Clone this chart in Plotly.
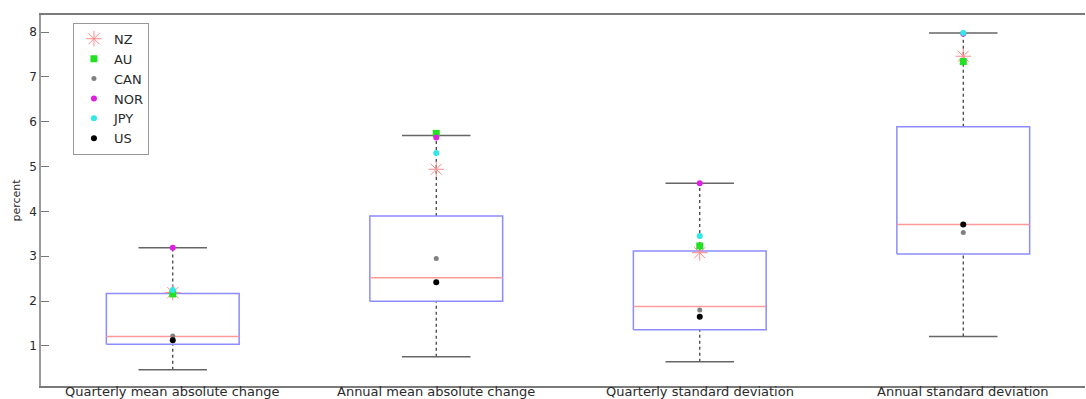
import plotly.graph_objects as go

# ---- data ----
categories = ["Quarterly mean absolute change", "Annual mean absolute change",
              "Quarterly standard deviation", "Annual standard deviation"]
q1 = [1.04, 2.00, 1.36, 3.05]
median = [1.21, 2.52, 1.88, 3.71]
q3 = [2.17, 3.90, 3.12, 5.89]
lower_whisker = [0.47, 0.76, 0.65, 1.21]
upper_whisker = [3.19, 5.69, 4.63, 7.98]

countries = ["NZ", "AU", "CAN", "NOR", "JPY", "US"]
NZ = [2.19, 4.94, 3.08, 7.46]
AU = [2.16, 5.74, 3.23, 7.34]
CAN = [1.22, 2.95, 1.80, 3.53]
NOR = [3.19, 5.65, 4.63, 7.96]
JPY = [2.25, 5.30, 3.45, 7.98]
US = [1.13, 2.42, 1.65, 3.71]
country_values = [NZ, AU, CAN, NOR, JPY, US]

yticks = [1, 2, 3, 4, 5, 6, 7, 8]

# ---- styles ----
FONT = "DejaVu Sans"
TEXT = "#2a2a2a"
box_half = 0.252
cap_half = 0.13
styles = {
    "NZ": dict(symbol="asterisk-open", size=13, color="#ff8a8a", line=dict(color="#ff8a8a", width=1)),
    "AU": dict(symbol="square", size=7, color="#22e022"),
    "CAN": dict(symbol="circle", size=5, color="#808080"),
    "NOR": dict(symbol="circle", size=6, color="#e020e0"),
    "JPY": dict(symbol="circle", size=6, color="#30e8e8"),
    "US": dict(symbol="circle", size=6, color="#000000"),
}

xpos = [i + 1 for i in range(len(categories))]

fig = go.Figure()

# whiskers (dashed)
wx, wy = [], []
for x, lo, a, b, hi in zip(xpos, lower_whisker, q1, q3, upper_whisker):
    wx += [x, x, None, x, x, None]
    wy += [lo, a, None, b, hi, None]
fig.add_trace(go.Scatter(x=wx, y=wy, mode="lines", showlegend=False, hoverinfo="skip",
                         line=dict(color="#333333", width=1.2, dash="3px,3px")))
# caps
cx, cy = [], []
for x, lo, hi in zip(xpos, lower_whisker, upper_whisker):
    cx += [x - cap_half, x + cap_half, None, x - cap_half, x + cap_half, None]
    cy += [lo, lo, None, hi, hi, None]
fig.add_trace(go.Scatter(x=cx, y=cy, mode="lines", showlegend=False, hoverinfo="skip",
                         line=dict(color="#666666", width=1.5)))
# boxes
bx, by = [], []
for x, a, b in zip(xpos, q1, q3):
    bx += [x - box_half, x + box_half, x + box_half, x - box_half, x - box_half, None]
    by += [a, a, b, b, a, None]
fig.add_trace(go.Scatter(x=bx, y=by, mode="lines", showlegend=False, hoverinfo="skip",
                         line=dict(color="#8c8cff", width=1.5)))
# medians
mx, my = [], []
for x, m in zip(xpos, median):
    mx += [x - box_half, x + box_half, None]
    my += [m, m, None]
fig.add_trace(go.Scatter(x=mx, y=my, mode="lines", showlegend=False, hoverinfo="skip",
                         line=dict(color="#ff9a9a", width=1.5)))

# country points
for name, vals in zip(countries, country_values):
    st = styles[name]
    marker = dict(symbol=st["symbol"], size=st["size"], color=st["color"])
    if "line" in st:
        marker["line"] = st["line"]
    fig.add_trace(go.Scatter(x=xpos, y=vals, mode="markers", name=name, marker=marker))

# category labels
for x, c in zip(xpos, categories):
    fig.add_annotation(x=x, xref="x", y=0, yref="paper", yanchor="middle", yshift=-5,
                       text=c, showarrow=False, font=dict(family=FONT, size=13, color=TEXT))

fig.update_layout(
    width=1086, height=399,
    margin=dict(l=41, r=1, t=15, b=13),
    paper_bgcolor="white", plot_bgcolor="white",
    font=dict(family=FONT, size=12, color=TEXT),
    showlegend=True,
    legend=dict(x=0.0306, y=0.979, xanchor="left", yanchor="top",
                bgcolor="white", bordercolor="#999999", borderwidth=1,
                font=dict(family=FONT, size=13, color=TEXT)),
    xaxis=dict(range=[0.5, 4.462], showgrid=False, zeroline=False, showticklabels=False,
               ticks="", showline=True, linecolor="#7a7a7a", linewidth=1.5, mirror=True),
    yaxis=dict(range=[0.108, 8.379], tickvals=yticks, ticktext=[str(v) for v in yticks],
               showgrid=False, zeroline=False, ticks="inside", ticklen=8, tickcolor="#777777",
               showline=True, linecolor="#9a9a9a", linewidth=1.5, mirror=False,
               tickfont=dict(family=FONT, size=12, color=TEXT),
               title=dict(text="percent", font=dict(family=FONT, size=11, color=TEXT), standoff=6)),
    yaxis2=dict(range=[0.108, 8.379], tickvals=yticks, overlaying="y", side="right", anchor="x",
                showgrid=False, zeroline=False, showline=False, showticklabels=False,
                ticks="inside", ticklen=4, tickcolor="#888888"),
)

fig.write_html("out.html")
